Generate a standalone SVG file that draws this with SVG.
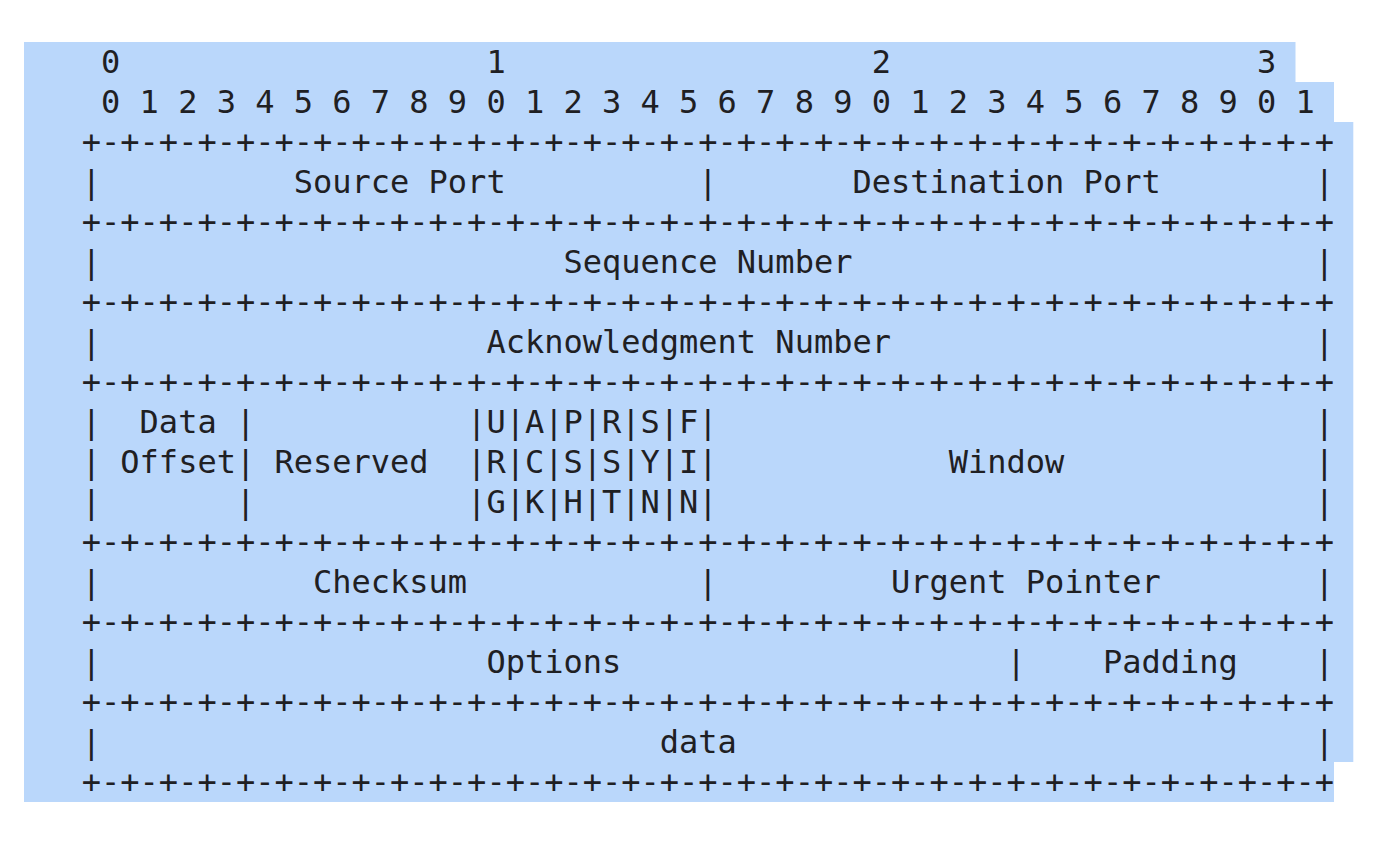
<svg xmlns="http://www.w3.org/2000/svg" width="1396" height="842" viewBox="0 0 1396 842">
<style>
.t{font-family:"DejaVu Sans Mono","Liberation Mono",monospace;font-size:32px;fill:#1f2023;white-space:pre}
</style>
<rect width="1396" height="842" fill="#ffffff"/>
<path id="selection" d="M24,42 H1295.5 V82 H1334 V122 H1353.3 V762 H1334 V802 H24 Z" fill="#bad7fb"/>
<g id="ruler">
<text class="t" xml:space="preserve" x="24" y="73">    0                   1                   2                   3</text>
<text class="t" xml:space="preserve" x="24" y="113">    0 1 2 3 4 5 6 7 8 9 0 1 2 3 4 5 6 7 8 9 0 1 2 3 4 5 6 7 8 9 0 1</text>
</g>
<g id="header">
<text class="t" xml:space="preserve" x="24" y="153">   +-+-+-+-+-+-+-+-+-+-+-+-+-+-+-+-+-+-+-+-+-+-+-+-+-+-+-+-+-+-+-+-+</text>
<text class="t" xml:space="preserve" x="24" y="193">   |          Source Port          |       Destination Port        |</text>
<text class="t" xml:space="preserve" x="24" y="233">   +-+-+-+-+-+-+-+-+-+-+-+-+-+-+-+-+-+-+-+-+-+-+-+-+-+-+-+-+-+-+-+-+</text>
<text class="t" xml:space="preserve" x="24" y="273">   |                        Sequence Number                        |</text>
<text class="t" xml:space="preserve" x="24" y="313">   +-+-+-+-+-+-+-+-+-+-+-+-+-+-+-+-+-+-+-+-+-+-+-+-+-+-+-+-+-+-+-+-+</text>
<text class="t" xml:space="preserve" x="24" y="353">   |                    Acknowledgment Number                      |</text>
<text class="t" xml:space="preserve" x="24" y="393">   +-+-+-+-+-+-+-+-+-+-+-+-+-+-+-+-+-+-+-+-+-+-+-+-+-+-+-+-+-+-+-+-+</text>
<text class="t" xml:space="preserve" x="24" y="433">   |  Data |           |U|A|P|R|S|F|                               |</text>
<text class="t" xml:space="preserve" x="24" y="473">   | Offset| Reserved  |R|C|S|S|Y|I|            Window             |</text>
<text class="t" xml:space="preserve" x="24" y="513">   |       |           |G|K|H|T|N|N|                               |</text>
<text class="t" xml:space="preserve" x="24" y="553">   +-+-+-+-+-+-+-+-+-+-+-+-+-+-+-+-+-+-+-+-+-+-+-+-+-+-+-+-+-+-+-+-+</text>
<text class="t" xml:space="preserve" x="24" y="593">   |           Checksum            |         Urgent Pointer        |</text>
<text class="t" xml:space="preserve" x="24" y="633">   +-+-+-+-+-+-+-+-+-+-+-+-+-+-+-+-+-+-+-+-+-+-+-+-+-+-+-+-+-+-+-+-+</text>
<text class="t" xml:space="preserve" x="24" y="673">   |                    Options                    |    Padding    |</text>
<text class="t" xml:space="preserve" x="24" y="713">   +-+-+-+-+-+-+-+-+-+-+-+-+-+-+-+-+-+-+-+-+-+-+-+-+-+-+-+-+-+-+-+-+</text>
<text class="t" xml:space="preserve" x="24" y="753">   |                             data                              |</text>
<text class="t" xml:space="preserve" x="24" y="793">   +-+-+-+-+-+-+-+-+-+-+-+-+-+-+-+-+-+-+-+-+-+-+-+-+-+-+-+-+-+-+-+-+</text>
</g>
</svg>
